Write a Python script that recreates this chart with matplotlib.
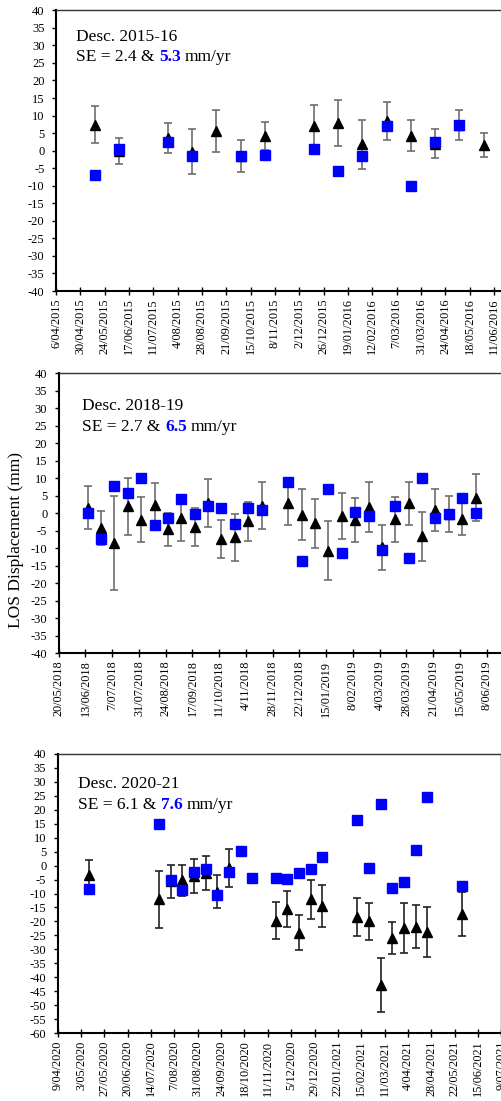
import datetime as dt
import matplotlib
matplotlib.use("Agg")
import matplotlib.pyplot as plt
import matplotlib.dates as mdates

plt.rcParams['font.family'] = ['Liberation Serif', 'DejaVu Serif']

W, H = 502, 1101

# ---------------- data ----------------
# Panel 1: Desc. 2015-16
p1_tri_dates = ['2015-05-14', '2015-06-07', '2015-07-25', '2015-08-18', '2015-09-11', '2015-10-05',
                '2015-10-29', '2015-12-16', '2016-01-09', '2016-02-02', '2016-02-26', '2016-03-21',
                '2016-04-14', '2016-05-08', '2016-06-01']
p1_tri_vals = [7.4, -0.1, 3.6, -0.3, 5.6, -1.6, 4.3, 7.0, 7.8, 1.8, 8.5, 4.3, 2.0, 7.2, 1.6]
p1_tri_errs = [5.3, 3.6, 4.4, 6.4, 5.9, 4.5, 4.0, 5.9, 6.5, 7.0, 5.5, 4.4, 4.1, 4.3, 3.5]
p1_sq_dates = ['2015-05-14', '2015-06-07', '2015-07-25', '2015-08-18', '2015-10-05', '2015-10-29',
               '2015-12-16', '2016-01-09', '2016-02-02', '2016-02-26', '2016-03-21', '2016-04-14',
               '2016-05-08']
p1_sq_vals = [-6.8, 0.6, 2.6, -1.4, -1.4, -1.1, 0.6, -5.9, -1.6, 6.9, -10.2, 2.5, 7.2]

# Panel 2: Desc. 2018-19
p2_tri_dates = ['2018-06-15', '2018-06-27', '2018-07-09', '2018-07-21', '2018-08-02', '2018-08-14',
                '2018-08-26', '2018-09-07', '2018-09-19', '2018-10-01', '2018-10-13', '2018-10-25',
                '2018-11-06', '2018-11-18', '2018-12-12', '2018-12-24', '2019-01-05', '2019-01-17',
                '2019-01-29', '2019-02-10', '2019-02-22', '2019-03-06', '2019-03-18', '2019-03-30',
                '2019-04-11', '2019-04-23', '2019-05-05', '2019-05-17', '2019-05-29']
p2_tri_vals = [1.6, -4.2, -8.4, 2.0, -1.8, 2.4, -4.6, -1.4, -3.9, 3.0, -7.3, -6.9, -2.3, 2.2,
               2.8, -0.4, -2.8, -10.7, -0.8, -1.8, 1.8, -9.7, -1.7, 2.9, -6.5, 0.9, -0.1, -1.5, 4.5]
p2_tri_errs = [6.1, 4.9, 13.4, 8.1, 6.4, 6.3, 4.8, 6.4, 5.4, 6.8, 5.4, 6.6, 5.5, 6.7,
               6.0, 7.3, 7.0, 8.4, 6.6, 6.3, 7.0, 6.4, 6.4, 6.1, 7.0, 5.9, 5.1, 4.8, 6.7]
p2_sq_dates = ['2018-06-15', '2018-06-27', '2018-07-09', '2018-07-21', '2018-08-02', '2018-08-14',
               '2018-08-26', '2018-09-07', '2018-09-19', '2018-10-01', '2018-10-13', '2018-10-25',
               '2018-11-06', '2018-11-18', '2018-12-12', '2018-12-24', '2019-01-17', '2019-01-29',
               '2019-02-10', '2019-02-22', '2019-03-06', '2019-03-18', '2019-03-30', '2019-04-11',
               '2019-04-23', '2019-05-05', '2019-05-17', '2019-05-29']
p2_sq_vals = [0.2, -7.3, 7.9, 5.8, 10.0, -3.2, -1.2, 4.2, -0.1, 2.2, 1.6, -3.0, 1.6, 1.0,
              9.0, -13.5, 6.9, -11.3, 0.4, -0.9, -10.5, 2.2, -12.7, 10.2, -1.2, -0.1, 4.5, 0.2]

# Panel 3: Desc. 2020-21
p3_tri_dates = ['2020-05-11', '2020-07-22', '2020-08-03', '2020-08-15', '2020-08-27', '2020-09-08',
                '2020-09-20', '2020-10-02', '2020-11-19', '2020-12-01', '2020-12-13', '2020-12-25',
                '2021-01-06', '2021-02-11', '2021-02-23', '2021-03-07', '2021-03-19', '2021-03-31',
                '2021-04-12', '2021-04-24', '2021-05-30']
p3_tri_vals = [-3.3, -12.1, -5.7, -5.3, -3.8, -2.6, -9.4, -0.9, -19.7, -15.6, -24.0, -12.0,
               -14.5, -18.3, -20.0, -42.7, -26.0, -22.3, -21.9, -23.9, -17.4]
p3_tri_errs = [5.3, 10.2, 5.9, 5.6, 6.0, 6.0, 5.9, 6.7, 6.5, 6.4, 6.2, 7.0,
               7.4, 6.8, 6.6, 9.7, 5.7, 8.9, 7.7, 8.9, 7.8]
p3_sq_dates = ['2020-05-11', '2020-07-22', '2020-08-03', '2020-08-15', '2020-08-27', '2020-09-08',
               '2020-09-20', '2020-10-02', '2020-10-14', '2020-10-26', '2020-11-19', '2020-12-01',
               '2020-12-13', '2020-12-25', '2021-01-06', '2021-02-11', '2021-02-23', '2021-03-07',
               '2021-03-19', '2021-03-31', '2021-04-12', '2021-04-24', '2021-05-30']
p3_sq_vals = [-8.25, 15.0, -5.2, -8.9, -2.3, -1.3, -10.4, -2.3, 5.3, -4.3, -4.3, -4.7,
              -2.5, -1.1, 3.2, 16.4, -0.8, 22.0, -7.9, -5.8, 5.7, 24.4, -7.2]

titles = ['Desc. 2015-16', 'Desc. 2018-19', 'Desc. 2020-21']
se_black = ['2.4', '2.7', '6.1']
se_blue = ['5.3', '6.5', '7.6']
tick_starts = ['2015-04-06', '2018-05-20', '2020-04-09']
n_intervals = [19, 17, 19]
y_ranges = [(-40, 40), (-40, 40), (-60, 40)]

panels = [
    (p1_tri_dates, p1_tri_vals, p1_tri_errs, p1_sq_dates, p1_sq_vals),
    (p2_tri_dates, p2_tri_vals, p2_tri_errs, p2_sq_dates, p2_sq_vals),
    (p3_tri_dates, p3_tri_vals, p3_tri_errs, p3_sq_dates, p3_sq_vals),
]

# ---------------- layout (pixels) ----------------
# left, right, top, bottom
boxes = [(56.0, 518.3, 10.3, 291.0),
         (58.7, 513.5, 373.3, 653.3),
         (57.7, 501.3, 753.7, 1033.3)]
text_pos = [(76, 41.3, 61.3), (82.3, 410.0, 431.0), (78.0, 788.3, 809.0)]
ecolors = ['#6e6e6e', '#6e6e6e', '#222222']

fig = plt.figure(figsize=(W / 100, H / 100), dpi=100)


def P(d):
    return dt.datetime.strptime(d, '%Y-%m-%d')


for i, (td, tv, te, sd, sv) in enumerate(panels):
    l, r, t, b = boxes[i]
    ax = fig.add_axes([l / W, 1 - b / H, (r - l) / W, (b - t) / H])
    start = P(tick_starts[i])
    ticks = [start + dt.timedelta(days=24 * k) for k in range(n_intervals[i] + 1)]
    ax.errorbar([P(d) for d in td], tv, yerr=te, fmt='^', color='black', ms=6.5,
                ecolor=ecolors[i], elinewidth=1.2, capsize=3, capthick=1.2, zorder=3)
    ax.plot([P(d) for d in sd], sv, 's', color='#0000ff', ms=7, zorder=5, linestyle='none')
    ax.set_xlim(ticks[0], ticks[-1])
    ax.set_ylim(*y_ranges[i])
    ax.set_xticks(ticks)
    ax.set_xticklabels([f"{d.day}/{d.month:02d}/{d.year}" for d in ticks], rotation=90,
                       fontsize=8.8)
    ax.set_yticks(range(y_ranges[i][0], y_ranges[i][1] + 1, 5))
    ax.set_yticklabels([str(v) for v in range(y_ranges[i][0], y_ranges[i][1] + 1, 5)],
                       fontsize=9)
    ax.tick_params(axis='x', direction='inout', length=5.5, width=1.0, pad=2.5)
    ax.tick_params(axis='y', direction='out', length=3.2, width=1.0, pad=5)
    for s in ['left', 'bottom']:
        ax.spines[s].set_linewidth(1.5)
        ax.spines[s].set_color('black')
    for s in ['top', 'right']:
        ax.spines[s].set_linewidth(1.0)
        ax.spines[s].set_color('#333333')

    tx, ty1, ty2 = text_pos[i]
    fs = 12.5
    fig.text(tx / W, 1 - ty1 / H, titles[i], fontsize=fs, va='baseline', ha='left')
    t1 = fig.text(tx / W, 1 - ty2 / H, f"SE = {se_black[i]} &", fontsize=fs,
                  va='baseline', ha='left')
    t2 = ax.annotate(se_blue[i], xy=(1, 0), xycoords=t1, xytext=(3.1, 0),
                     textcoords='offset points', va='bottom', ha='left', fontsize=fs,
                     color='#0000ff', fontweight='bold', annotation_clip=False)
    ax.annotate("mm/yr", xy=(1, 0), xycoords=t2, xytext=(3.1, 0),
                textcoords='offset points', va='bottom', ha='left', fontsize=fs,
                color='black', annotation_clip=False)

fig.text(16 / W, 1 - 540 / H, 'LOS Displacement (mm)', rotation=90, fontsize=12.5,
         va='center', ha='center')

fig.savefig('out.png', dpi=100)
